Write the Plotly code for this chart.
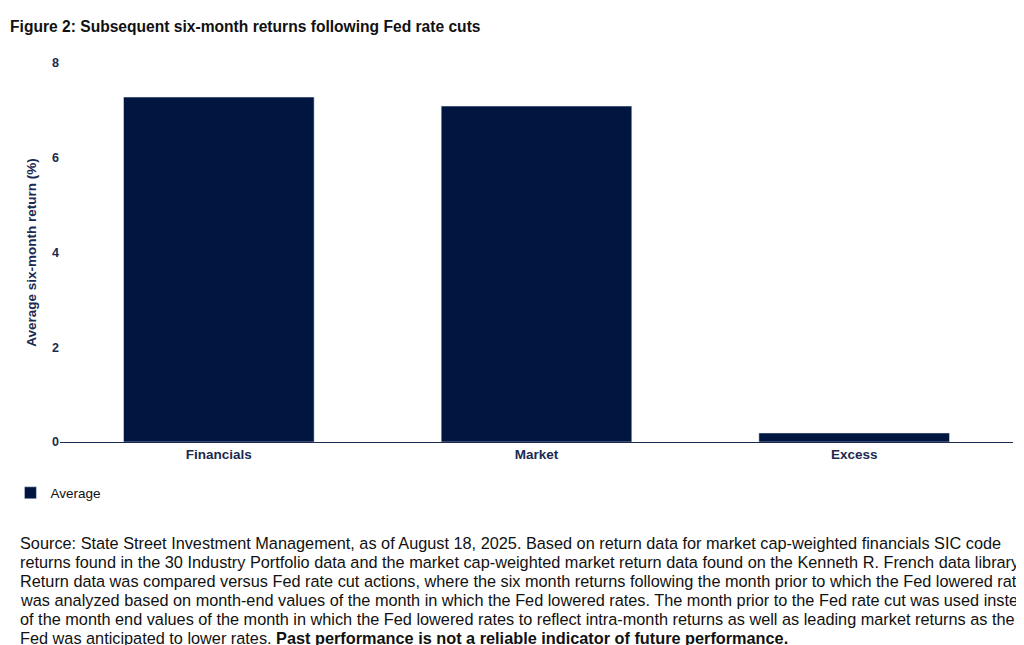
import plotly.graph_objects as go

categories = ["Financials", "Market", "Excess"]
values = [7.28, 7.09, 0.19]
y_ticks = [0, 2, 4, 6, 8]

source_lines = [
    "Source: State Street Investment Management, as of August 18, 2025. Based on return data for market cap-weighted financials SIC code",
    "returns found in the 30 Industry Portfolio data and the market cap-weighted market return data found on the Kenneth R. French data library.",
    "Return data was compared versus Fed rate cut actions, where the six month returns following the month prior to which the Fed lowered rates",
    "was analyzed based on month-end values of the month in which the Fed lowered rates. The month prior to the Fed rate cut was used instead",
    "of the month end values of the month in which the Fed lowered rates to reflect intra-month returns as well as leading market returns as the",
    "Fed was anticipated to lower rates. <b>Past performance is not a reliable indicator of future performance.</b>",
]

navy = "#001641"
W, H = 1024, 645
ml, mr, mt, mb = 52, 19, 55, 211
ph = H - mt - mb
pw = W - ml - mr

fig = go.Figure()
fig.add_trace(go.Bar(x=categories, y=values, name="Average", marker_color=navy, width=0.6))

anns = []
for i, line in enumerate(source_lines):
    ypix = 535 + 19 * i
    anns.append(dict(text=line, xref="paper", yref="paper", x=(10 - ml) / pw,
                     y=(H - mb - ypix) / ph, xanchor="left", yanchor="middle",
                     align="left", showarrow=False, font=dict(size=16.3, color="#111")))

fig.update_layout(
    width=W, height=H, plot_bgcolor="white", paper_bgcolor="white",
    font=dict(family="Liberation Sans, Arial", color="#111", size=13),
    margin=dict(l=ml, r=mr, t=mt, b=mb, autoexpand=False),
    title=dict(text="<b>Figure 2: Subsequent six-month returns following Fed rate cuts</b>",
               xref="container", x=0.002, xanchor="left", y=0.972, yanchor="middle",
               font=dict(size=15.6, color="#111")),
    xaxis=dict(showline=True, linecolor="#1a2a50", linewidth=1, ticks="", automargin=False,
               tickfont=dict(size=13.5, color="#1a2a50", weight="bold")),
    yaxis=dict(range=[0, 8], tickvals=y_ticks, showgrid=False, showline=False, ticks="", automargin=False,
               tickfont=dict(size=12.5, color="#1a2a50", weight="bold"),
               title=dict(text="<b>Average six-month return (%)</b>", font=dict(size=13.5, color="#1a2a50"), standoff=12)),
    showlegend=True,
    legend=dict(orientation="h", x=-0.052, xanchor="left", y=(434 - 485) / ph, yanchor="middle",
                font=dict(size=13.5, color="#111")),
    annotations=anns,
)
fig.write_html("out.html")
